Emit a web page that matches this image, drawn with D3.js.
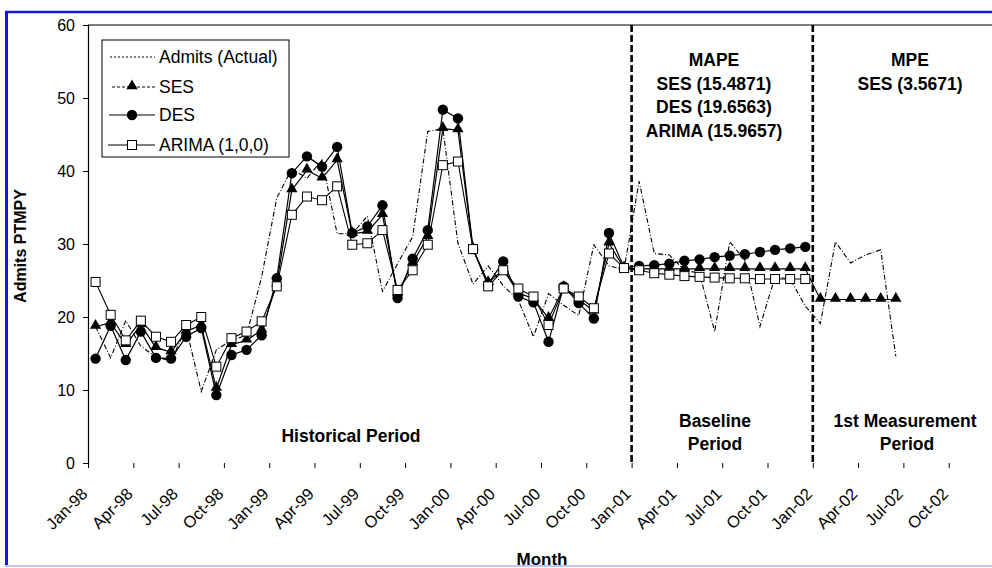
<!DOCTYPE html>
<html>
<head>
<meta charset="utf-8">
<script src="https://cdn.jsdelivr.net/npm/d3@7"></script>
<style>
body { margin: 0; background: #fff; }
text { font-family: "Liberation Sans", Arial, sans-serif; fill: #000; }
</style>
</head>
<body>
<div id="chart"></div>
<script>
// tick labels, one every 3 months starting Jan-98
var tickLabels = ["Jan-98","Apr-98","Jul-98","Oct-98","Jan-99","Apr-99","Jul-99","Oct-99",
  "Jan-00","Apr-00","Jul-00","Oct-00","Jan-01","Apr-01","Jul-01","Oct-01",
  "Jan-02","Apr-02","Jul-02","Oct-02"]

// monthly values, index 0 = Jan-98
var actual = [18.7,14.4,19.5,16.0,14.5,14.0,18.5,9.8,15.5,16.8,17.5,25.5,
  36.3,40.3,39.0,41.5,31.4,31.4,33.8,23.5,27.3,31.0,45.4,45.8,
  30.1,24.5,27.0,24.3,22.3,17.3,23.2,21.6,20.2,29.9,27.0,26.5,
  38.6,28.7,28.5,26.4,26.0,18.0,30.3,27.8,18.7,25.5,25.2,21.5,
  19.1,30.3,27.4,28.5,29.2,14.6]
var ses = [18.7,19.2,16.2,18.9,15.8,15.2,18.0,18.9,10.2,16.2,16.8,18.2,
  24.5,37.4,40.1,39.0,41.5,31.4,31.7,34.0,23.2,27.4,31.0,45.8,
  45.6,29.3,24.7,26.5,23.3,22.5,19.8,24.0,22.4,20.8,30.1,26.7,
  26.6,26.6,26.6,26.6,26.6,26.6,26.6,26.6,26.6,26.6,26.6,26.6,
  22.4,22.4,22.4,22.4,22.4,22.4]
var des = [14.3,18.8,14.1,18.0,14.4,14.3,17.3,18.5,9.3,14.8,15.5,17.5,
  25.3,39.7,42.0,40.6,43.3,31.5,32.4,35.3,22.6,28.0,31.9,48.4,
  47.2,29.3,24.5,27.6,22.8,22.0,16.6,24.2,21.9,19.8,31.5,26.8,
  27.0,27.1,27.3,27.7,27.9,28.2,28.4,28.6,28.9,29.2,29.4,29.6]
var arima = [24.8,20.3,16.8,19.5,17.3,16.6,18.9,20.0,13.2,17.1,18.0,19.4,
  24.2,34.0,36.5,36.0,37.9,29.9,30.1,31.9,23.7,26.4,29.9,40.8,
  41.3,29.3,24.2,26.4,23.9,22.8,18.9,23.9,22.8,21.2,28.7,26.7,
  26.4,26.0,25.8,25.6,25.5,25.4,25.3,25.3,25.2,25.2,25.2,25.2]

var periodStarts = [36, 48]   // Jan-01 and Jan-02

var width = 992, height = 568

var svg = d3.select("#chart").append("svg")
  .attr("width", width)
  .attr("height", height)

// frame of the picture
svg.append("line").attr("x1", 6.5).attr("x2", 6.5).attr("y1", 11).attr("y2", 566)
  .attr("stroke", "#1414e6").attr("stroke-width", 3)
svg.append("line").attr("x1", 5).attr("x2", 992).attr("y1", 12).attr("y2", 12)
  .attr("stroke", "#1414e6").attr("stroke-width", 2.5)
svg.append("line").attr("x1", 5).attr("x2", 992).attr("y1", 566).attr("y2", 566)
  .attr("stroke", "#c4c4f2").attr("stroke-width", 2)

// scales: x in months from Jan-98, points sit in the middle of their month
var x = d3.scaleLinear().domain([0, 60]).range([88, 88 + 60 * 15.1])
var y = d3.scaleLinear().domain([0, 60]).range([463, 25])

// top border of plot
svg.append("line").attr("x1", 88).attr("x2", 992).attr("y1", 25).attr("y2", 25)
  .attr("stroke", "#000").attr("stroke-width", 1.2)

// y axis
var yAxis = svg.append("g")
  .attr("transform", "translate(88,0)")
  .call(d3.axisLeft(y).tickValues([0,10,20,30,40,50,60]).tickSize(5).tickPadding(8))
yAxis.selectAll("text").style("font-size", "16px")
yAxis.select(".domain").attr("stroke-width", 1.2)

// x axis
var xAxis = svg.append("g")
  .attr("transform", "translate(0,463)")
  .call(d3.axisBottom(x)
    .tickValues(tickLabels.map(function(d, i) { return i * 3 }))
    .tickFormat(function(d, i) { return tickLabels[i] })
    .tickSize(5))
xAxis.select(".domain").remove()
xAxis.selectAll("text")
  .attr("y", 0).attr("dy", 0)
  .attr("text-anchor", "end")
  .attr("transform", "translate(0,32) rotate(-45)")
  .style("font-size", "16.5px")

// period separators
svg.selectAll(".period")
  .data(periodStarts)
  .enter()
  .append("line")
    .attr("x1", function(d) { return x(d) })
    .attr("x2", function(d) { return x(d) })
    .attr("y1", 25).attr("y2", 463)
    .attr("stroke", "#000")
    .attr("stroke-width", 2.6)
    .attr("stroke-dasharray", "7,3")

function pts(arr) { return arr.map(function(v, i) { return [i + 0.5, v] }) }
var line = d3.line().x(function(d) { return x(d[0]) }).y(function(d) { return y(d[1]) })

// Admits (Actual)
svg.append("path").attr("d", line(pts(actual)))
  .attr("fill", "none").attr("stroke", "#000").attr("stroke-width", 1.1)
  .attr("stroke-dasharray", "5,2,1,2")

// SES
svg.append("path").attr("d", line(pts(ses)))
  .attr("fill", "none").attr("stroke", "#000").attr("stroke-width", 1.2)
svg.selectAll(".ses").data(pts(ses)).enter().append("path")
  .attr("d", d3.symbol().type(d3.symbolTriangle).size(55))
  .attr("transform", function(d) { return "translate(" + x(d[0]) + "," + (y(d[1]) - 1) + ")" })
  .attr("fill", "#000")

// DES
svg.append("path").attr("d", line(pts(des)))
  .attr("fill", "none").attr("stroke", "#000").attr("stroke-width", 1.2)
svg.selectAll(".des").data(pts(des)).enter().append("circle")
  .attr("cx", function(d) { return x(d[0]) })
  .attr("cy", function(d) { return y(d[1]) })
  .attr("r", 5.2)
  .attr("fill", "#000")

// ARIMA (1,0,0)
svg.append("path").attr("d", line(pts(arima)))
  .attr("fill", "none").attr("stroke", "#000").attr("stroke-width", 1.1)
svg.selectAll(".arima").data(pts(arima)).enter().append("rect")
  .attr("x", function(d) { return x(d[0]) - 4.5 })
  .attr("y", function(d) { return y(d[1]) - 4.5 })
  .attr("width", 9).attr("height", 9)
  .attr("fill", "#fff").attr("stroke", "#000").attr("stroke-width", 1)

// legend
var leg = svg.append("g")
leg.append("rect").attr("x", 102).attr("y", 40).attr("width", 187).attr("height", 117)
  .attr("fill", "#fff").attr("stroke", "#000").attr("stroke-width", 1)
var legRows = [57, 87, 115, 145]
var legNames = ["Admits (Actual)", "SES", "DES", "ARIMA (1,0,0)"]
leg.selectAll(".lt").data(legNames).enter().append("text")
  .attr("x", 159)
  .attr("y", function(d, i) { return legRows[i] + 6 })
  .style("font-size", "17.5px")
  .text(function(d) { return d })
leg.append("line").attr("x1", 110).attr("x2", 155).attr("y1", legRows[0]).attr("y2", legRows[0])
  .attr("stroke", "#000").attr("stroke-dasharray", "2,2")
leg.append("line").attr("x1", 112).attr("x2", 155).attr("y1", legRows[1]).attr("y2", legRows[1])
  .attr("stroke", "#000").attr("stroke-dasharray", "3,2")
leg.append("path").attr("d", d3.symbol().type(d3.symbolTriangle).size(55))
  .attr("transform", "translate(132," + (legRows[1] - 1) + ")")
leg.append("line").attr("x1", 109).attr("x2", 155).attr("y1", legRows[2]).attr("y2", legRows[2])
  .attr("stroke", "#000").attr("stroke-width", 1.2)
leg.append("circle").attr("cx", 132).attr("cy", legRows[2]).attr("r", 5.2)
leg.append("line").attr("x1", 108).attr("x2", 155).attr("y1", legRows[3]).attr("y2", legRows[3])
  .attr("stroke", "#000").attr("stroke-width", 1.1)
leg.append("rect").attr("x", 127.5).attr("y", legRows[3] - 4.5).attr("width", 9).attr("height", 9)
  .attr("fill", "#fff").attr("stroke", "#000")

// annotations
var notes = [
  ["MAPE", 714, 66], ["SES (15.4871)", 714, 90], ["DES (19.6563)", 714, 113], ["ARIMA (15.9657)", 714, 137],
  ["MPE", 910, 66], ["SES (3.5671)", 910, 90],
  ["Historical Period", 351, 442],
  ["Baseline", 715, 427], ["Period", 715, 450],
  ["1st Measurement", 905, 427], ["Period", 907, 450]
]
svg.selectAll(".note").data(notes).enter().append("text")
  .attr("x", function(d) { return d[1] })
  .attr("y", function(d) { return d[2] })
  .attr("text-anchor", "middle")
  .style("font-size", "17.5px").style("font-weight", "bold")
  .text(function(d) { return d[0] })

// axis titles
svg.append("text")
  .attr("transform", "translate(26,246) rotate(-90)")
  .attr("text-anchor", "middle")
  .style("font-size", "16px").style("font-weight", "bold")
  .text("Admits PTMPY")
svg.append("text")
  .attr("x", 542).attr("y", 565)
  .attr("text-anchor", "middle")
  .style("font-size", "17px").style("font-weight", "bold")
  .text("Month")
</script>
</body>
</html>
